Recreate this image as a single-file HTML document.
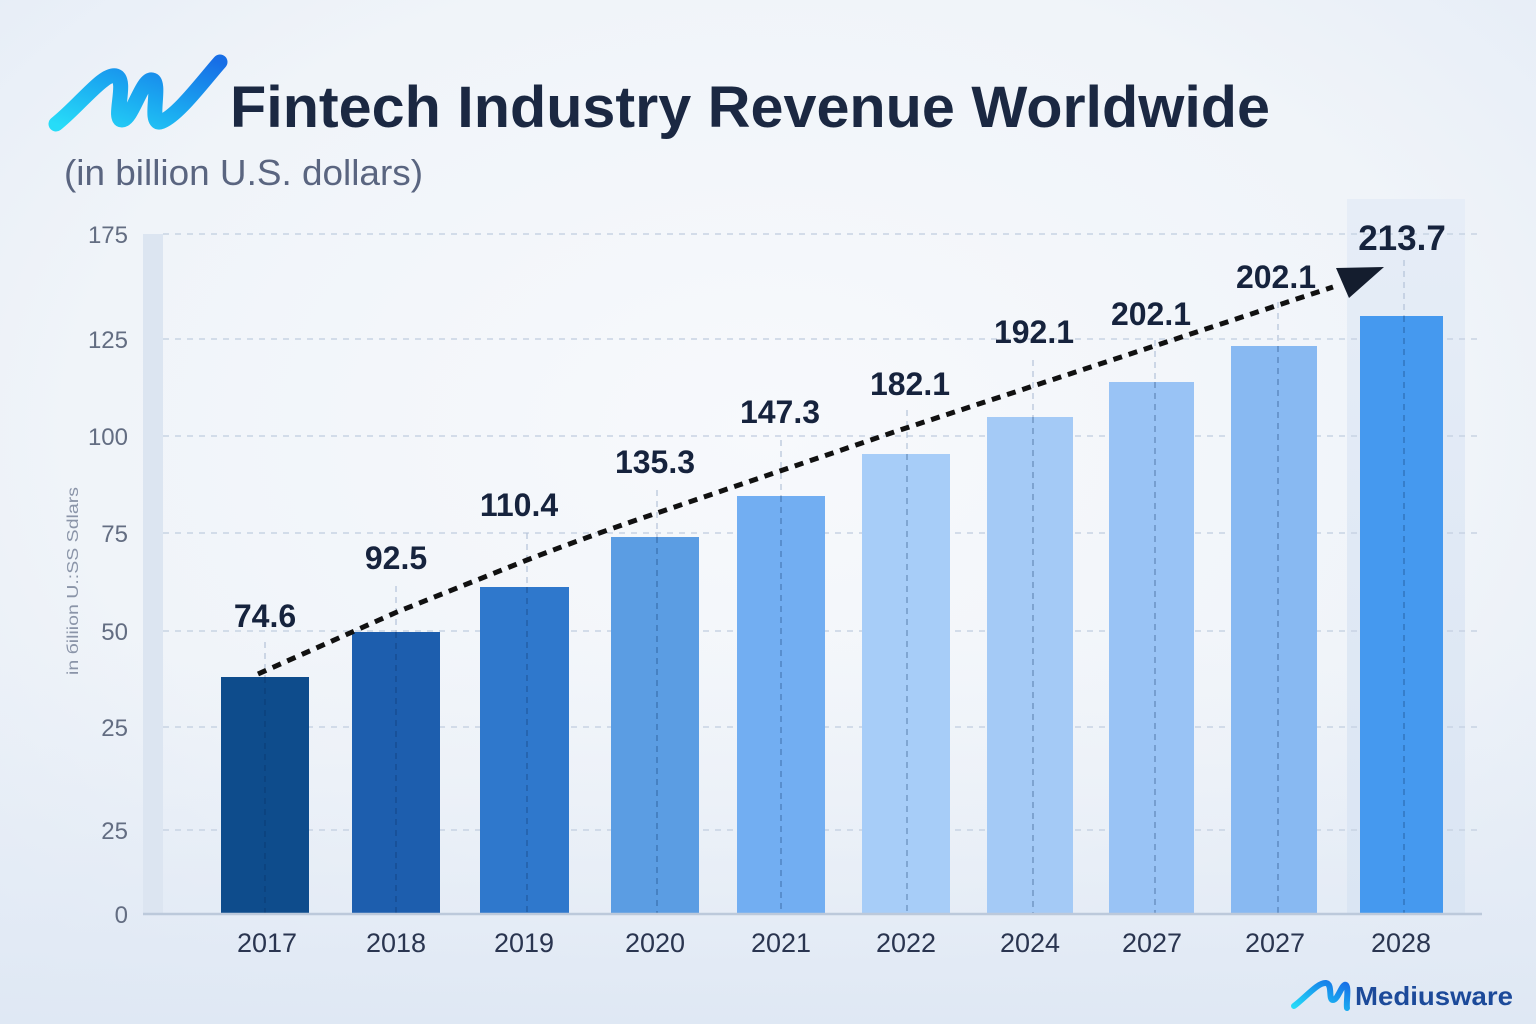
<!DOCTYPE html>
<html><head><meta charset="utf-8"><style>
html,body{margin:0;padding:0;}
body{width:1536px;height:1024px;overflow:hidden;background:#eef2f8;}
svg{display:block;}
text{font-family:"Liberation Sans",sans-serif;}
</style></head><body>
<svg width="1536" height="1024" viewBox="0 0 1536 1024" xmlns="http://www.w3.org/2000/svg">
<defs>
<radialGradient id="bg" cx="0.5" cy="0.42" r="0.75">
<stop offset="0" stop-color="#f7f9fc"/>
<stop offset="0.6" stop-color="#f0f4f9"/>
<stop offset="1" stop-color="#e3ebf6"/>
</radialGradient>
<linearGradient id="bot" x1="0" y1="0" x2="0" y2="1">
<stop offset="0" stop-color="#e8eef7" stop-opacity="0"/>
<stop offset="1" stop-color="#dfe8f4" stop-opacity="1"/>
</linearGradient>
<linearGradient id="logo" x1="0" y1="1" x2="1" y2="0">
<stop offset="0" stop-color="#27dcf8"/>
<stop offset="0.5" stop-color="#1aa6f0"/>
<stop offset="1" stop-color="#176ee6"/>
</linearGradient>
<linearGradient id="hl" x1="0" y1="0" x2="0" y2="1">
<stop offset="0" stop-color="#e6edf7"/>
<stop offset="1" stop-color="#dae5f3"/>
</linearGradient>
</defs>
<rect width="1536" height="1024" fill="url(#bg)"/>
<rect y="640" width="1536" height="384" fill="url(#bot)"/>

<!-- logo -->
<path d="M56,124 C 80,105 104,72 116,76 C 128,80 112,120 122,120 C 132,120 142,78 152,80 C 162,82 148,124 160,122 C 176,118 204,80 220,62" fill="none" stroke="url(#logo)" stroke-width="15" stroke-linecap="round" stroke-linejoin="round"/>

<!-- title -->
<text x="230" y="127" font-size="58" font-weight="bold" fill="#1b2842" textLength="1040" lengthAdjust="spacingAndGlyphs">Fintech Industry Revenue Worldwide</text>
<text x="64" y="185" font-size="36" fill="#5a6580" textLength="359" lengthAdjust="spacingAndGlyphs">(in billion U.S. dollars)</text>

<!-- left band & highlight -->
<rect x="143" y="234" width="20" height="680" fill="#dce5f1"/>
<rect x="1347" y="199" width="118" height="715" fill="url(#hl)"/>

<!-- grid -->
<g stroke="#c8d3e3" stroke-width="1.5" stroke-dasharray="6 6">
<line x1="163" y1="234" x2="1480" y2="234"/>
<line x1="163" y1="339" x2="1480" y2="339"/>
<line x1="163" y1="436" x2="1480" y2="436"/>
<line x1="163" y1="533" x2="1480" y2="533"/>
<line x1="163" y1="631" x2="1480" y2="631"/>
<line x1="163" y1="727" x2="1480" y2="727"/>
<line x1="163" y1="830" x2="1480" y2="830"/>
</g>

<!-- y labels -->
<g font-size="24" fill="#636d82" text-anchor="end">
<text x="128" y="243">175</text>
<text x="128" y="348">125</text>
<text x="128" y="445">100</text>
<text x="128" y="542">75</text>
<text x="128" y="640">50</text>
<text x="128" y="736">25</text>
<text x="128" y="839">25</text>
<text x="128" y="923">0</text>
</g>
<text transform="translate(78,675) rotate(-90)" font-size="16" fill="#8a94a8" textLength="188" lengthAdjust="spacingAndGlyphs">in бiliion U.:SS Sdlars</text>

<!-- bars -->
<rect x="221" y="677" width="88" height="237" fill="#0e4c8c"/>
<rect x="352" y="632" width="88" height="282" fill="#1d5eae"/>
<rect x="480" y="587" width="89" height="327" fill="#2f78cc"/>
<rect x="611" y="537" width="88" height="377" fill="#5b9de3"/>
<rect x="737" y="496" width="88" height="418" fill="#72aef2"/>
<rect x="862" y="454" width="88" height="460" fill="#a7cdf8"/>
<rect x="987" y="417" width="86" height="497" fill="#a4caf6"/>
<rect x="1109" y="382" width="85" height="532" fill="#99c3f5"/>
<rect x="1231" y="346" width="86" height="568" fill="#88b9f2"/>
<rect x="1360" y="316" width="83" height="598" fill="#4599ef"/>

<!-- vertical dashed lines above bars -->
<g stroke="#b3c2d8" stroke-width="1.2" stroke-dasharray="6 5">
<line x1="265" y1="642" x2="265" y2="677"/>
<line x1="396" y1="586" x2="396" y2="632"/>
<line x1="527" y1="533" x2="527" y2="587"/>
<line x1="657" y1="490" x2="657" y2="537"/>
<line x1="781" y1="440" x2="781" y2="496"/>
<line x1="907" y1="410" x2="907" y2="454"/>
<line x1="1033" y1="360" x2="1033" y2="417"/>
<line x1="1155" y1="340" x2="1155" y2="382"/>
<line x1="1278" y1="302" x2="1278" y2="346"/>
<line x1="1404" y1="260" x2="1404" y2="316"/>
</g>
<g stroke="#0a2a5a" stroke-opacity="0.4" stroke-width="1.2" stroke-dasharray="6 5">
<line x1="265" y1="677" x2="265" y2="914"/>
<line x1="396" y1="632" x2="396" y2="914"/>
<line x1="527" y1="587" x2="527" y2="914"/>
<line x1="657" y1="537" x2="657" y2="914"/>
<line x1="781" y1="496" x2="781" y2="914"/>
<line x1="907" y1="454" x2="907" y2="914"/>
<line x1="1033" y1="417" x2="1033" y2="914"/>
<line x1="1155" y1="382" x2="1155" y2="914"/>
<line x1="1278" y1="346" x2="1278" y2="914"/>
<line x1="1404" y1="316" x2="1404" y2="914"/>
</g>

<!-- baseline -->
<line x1="143" y1="914" x2="1482" y2="914" stroke="#bcc9db" stroke-width="2.5"/>

<!-- trend line -->
<path d="M258,674 L397,612 L527,560 Q600,532 660,512 L900,430 L1333,287" fill="none" stroke="#111" stroke-width="5" stroke-dasharray="9 7"/>
<polygon points="1336,268 1384,267 1349,298" fill="#141d2e"/>

<!-- value labels -->
<g font-size="32" font-weight="bold" fill="#16233d" text-anchor="middle">
<text x="265" y="627">74.6</text>
<text x="396" y="569">92.5</text>
<text x="519" y="516">110.4</text>
<text x="655" y="473">135.3</text>
<text x="780" y="423">147.3</text>
<text x="910" y="395">182.1</text>
<text x="1034" y="343">192.1</text>
<text x="1151" y="325">202.1</text>
<text x="1276" y="288">202.1</text>
<text x="1402" y="250" font-size="35">213.7</text>
</g>

<!-- x labels -->
<g font-size="27" fill="#2a3550" text-anchor="middle">
<text x="267" y="952">2017</text>
<text x="396" y="952">2018</text>
<text x="524" y="952">2019</text>
<text x="655" y="952">2020</text>
<text x="781" y="952">2021</text>
<text x="906" y="952">2022</text>
<text x="1030" y="952">2024</text>
<text x="1152" y="952">2027</text>
<text x="1275" y="952">2027</text>
<text x="1401" y="952">2028</text>
</g>

<!-- Mediusware logo -->
<path d="M1294,1006 C1305,998 1318,982 1326,983 C1333,984 1328,1000 1333,1000 C1338,1000 1342,983 1346,985 C1349,988 1346,1003 1347,1008" fill="none" stroke="url(#logo)" stroke-width="6" stroke-linecap="round" stroke-linejoin="round"/>
<text x="1355" y="1005" font-size="26" font-weight="bold" fill="#1c4a9a" textLength="158" lengthAdjust="spacingAndGlyphs">Mediusware</text>
</svg>
</body></html>
